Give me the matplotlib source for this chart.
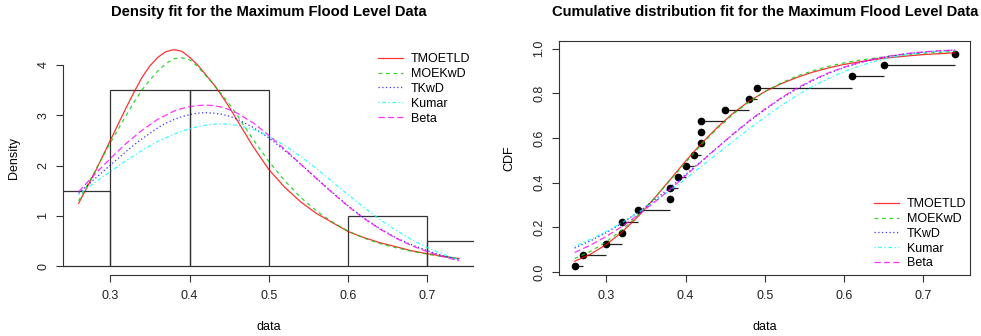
import matplotlib
matplotlib.use("Agg")
import matplotlib.pyplot as plt
import numpy as np

plt.rcParams['font.family'] = ['Liberation Sans', 'DejaVu Sans']

# Maximum flood level data (20 observations)
flood = [0.26, 0.27, 0.30, 0.32, 0.32, 0.34, 0.38, 0.38, 0.39, 0.40,
         0.41, 0.42, 0.42, 0.42, 0.45, 0.48, 0.49, 0.61, 0.65, 0.74]
ecdf_p = [0.025, 0.075, 0.125, 0.175, 0.225, 0.275, 0.325, 0.375, 0.425, 0.475,
          0.525, 0.575, 0.625, 0.675, 0.725, 0.775, 0.825, 0.875, 0.925, 0.975]

# histogram (R hist, density scale)
hist_breaks = [0.2, 0.3, 0.4, 0.5, 0.6, 0.7, 0.8]
hist_dens = [1.5, 3.5, 3.5, 0.0, 1.0, 0.5]

# x where the fitted densities were read (finer round the peaks)
xs_pdf = [0.26, 0.28, 0.30, 0.32, 0.33, 0.34, 0.35, 0.36, 0.37, 0.38, 0.39, 0.40, 0.41,
          0.42, 0.43, 0.44, 0.45, 0.46, 0.48, 0.50, 0.52, 0.54, 0.56, 0.58, 0.60, 0.62,
          0.64, 0.66, 0.68, 0.70, 0.72, 0.74]

pdf_tmoetld = [1.25, 1.85, 2.50, 3.15, 3.46, 3.75, 3.98, 4.15, 4.26, 4.30, 4.27, 4.15, 4.00,
               3.81, 3.62, 3.40, 3.16, 2.90, 2.38, 1.92, 1.57, 1.28, 1.05, 0.87, 0.69, 0.57,
               0.47, 0.39, 0.31, 0.25, 0.20, 0.155]
pdf_moekwd = [1.30, 1.87, 2.45, 3.00, 3.26, 3.50, 3.70, 3.88, 4.02, 4.12, 4.14, 4.10, 3.97,
              3.79, 3.62, 3.42, 3.22, 3.00, 2.52, 2.08, 1.70, 1.37, 1.10, 0.88, 0.70, 0.56,
              0.45, 0.37, 0.30, 0.24, 0.19, 0.15]
pdf_tkwd = [1.45, 1.73, 2.01, 2.28, 2.41, 2.53, 2.64, 2.75, 2.84, 2.91, 2.97, 3.01, 3.04,
            3.05, 3.04, 3.02, 2.98, 2.92, 2.76, 2.55, 2.30, 2.03, 1.75, 1.47, 1.20, 0.96,
            0.75, 0.57, 0.43, 0.31, 0.21, 0.13]
pdf_kumar = [1.42, 1.66, 1.88, 2.10, 2.20, 2.30, 2.39, 2.48, 2.55, 2.62, 2.68, 2.73, 2.77,
             2.80, 2.82, 2.83, 2.82, 2.80, 2.72, 2.58, 2.40, 2.18, 1.94, 1.68, 1.42, 1.17,
             0.93, 0.72, 0.53, 0.37, 0.24, 0.13]
pdf_beta = [1.48, 1.82, 2.14, 2.44, 2.57, 2.70, 2.81, 2.92, 3.00, 3.08, 3.13, 3.17, 3.19,
            3.20, 3.19, 3.16, 3.11, 3.04, 2.85, 2.60, 2.32, 2.03, 1.74, 1.46, 1.19, 0.95,
            0.74, 0.56, 0.41, 0.29, 0.19, 0.11]

# x where the fitted cdfs were read
xs_cdf = [0.26, 0.28, 0.30, 0.32, 0.34, 0.36, 0.38, 0.40, 0.42, 0.44, 0.46, 0.48, 0.50,
          0.52, 0.54, 0.56, 0.58, 0.60, 0.62, 0.64, 0.66, 0.68, 0.70, 0.72, 0.74]

cdf_tmoetld = [0.048, 0.079, 0.123, 0.179, 0.248, 0.327, 0.411, 0.496, 0.575, 0.647, 0.711,
               0.764, 0.807, 0.842, 0.870, 0.894, 0.913, 0.929, 0.941, 0.952, 0.960, 0.967,
               0.973, 0.977, 0.981]
cdf_moekwd = [0.060, 0.092, 0.135, 0.189, 0.254, 0.328, 0.408, 0.490, 0.570, 0.642, 0.706,
              0.761, 0.807, 0.845, 0.876, 0.900, 0.920, 0.936, 0.948, 0.958, 0.967, 0.973,
              0.979, 0.983, 0.987]
cdf_tkwd = [0.107, 0.139, 0.176, 0.219, 0.267, 0.320, 0.377, 0.436, 0.496, 0.557, 0.616,
            0.673, 0.726, 0.775, 0.818, 0.856, 0.888, 0.915, 0.937, 0.954, 0.967, 0.977,
            0.984, 0.990, 0.993]
cdf_kumar = [0.115, 0.146, 0.181, 0.221, 0.265, 0.313, 0.364, 0.417, 0.473, 0.529, 0.585,
             0.640, 0.693, 0.743, 0.789, 0.830, 0.866, 0.897, 0.923, 0.944, 0.961, 0.973,
             0.982, 0.988, 0.992]
cdf_beta = [0.087, 0.120, 0.159, 0.204, 0.255, 0.310, 0.369, 0.431, 0.494, 0.556, 0.618,
            0.676, 0.729, 0.778, 0.822, 0.859, 0.891, 0.917, 0.938, 0.955, 0.968, 0.978,
            0.985, 0.990, 0.993]

models = ['TMOETLD', 'MOEKwD', 'TKwD', 'Kumar', 'Beta']
colors = ['#FF0000', '#00CD00', '#0000FF', '#00FFFF', '#FF00FF']
dashes = [None, (3, 3), (1, 2), (1, 2, 3, 2), (5, 2.5)]
pdfs = [pdf_tmoetld, pdf_moekwd, pdf_tkwd, pdf_kumar, pdf_beta]
cdfs = [cdf_tmoetld, cdf_moekwd, cdf_tkwd, cdf_kumar, cdf_beta]

W, H = 981, 336
fig = plt.figure(figsize=(W / 100, H / 100), dpi=100)

fs_tick = 9
fs_lab = 9
fs_title = 10.6
axcol = '#333333'


def r_axes(ax):
    ax.tick_params(direction='out', length=5, width=0.8, colors=axcol,
                   labelsize=fs_tick, labelcolor='#222222')
    ax.tick_params(axis='x', pad=6)
    ax.tick_params(axis='y', pad=5, labelrotation=90)
    for lab in ax.get_yticklabels():
        lab.set_va('center')


def draw_lines(ax, xs, ys_list):
    for ys, c, d, name in zip(ys_list, colors, dashes, models):
        ln, = ax.plot(xs, ys, color=c, lw=0.9, alpha=0.8, label=name)
        if d is not None:
            ln.set_dashes(d)


def r_legend(ax, x0, y0):
    ax.legend(loc='upper left', bbox_to_anchor=(x0 / W, 1 - y0 / H),
              bbox_transform=fig.transFigure, frameon=False, fontsize=fs_lab,
              handlelength=2.0, handletextpad=0.65, labelspacing=0.23,
              borderpad=0, borderaxespad=0)


# ---- density panel ----
ax1 = fig.add_axes([63.4 / W, 1 - 275 / H, 410.9 / W, 234 / H])
ax1.bar(hist_breaks[:-1], hist_dens, width=np.diff(hist_breaks), align='edge',
        fill=False, edgecolor='#333333', lw=0.9)
draw_lines(ax1, xs_pdf, pdfs)
ax1.set_xlim(0.2408, 0.7592)
ax1.set_ylim(-0.172, 4.472)
ax1.set_xticks([0.3, 0.4, 0.5, 0.6, 0.7])
ax1.set_yticks([0, 1, 2, 3, 4])
for s in ['top', 'right']:
    ax1.spines[s].set_visible(False)
ax1.spines['left'].set_bounds(0, 4)
ax1.spines['bottom'].set_bounds(0.3, 0.7)
for s in ['left', 'bottom']:
    ax1.spines[s].set_color(axcol)
    ax1.spines[s].set_linewidth(0.8)
r_axes(ax1)
r_legend(ax1, 378, 53)
fig.text(269 / W, 1 - 12 / H, 'Density fit for the Maximum Flood Level Data',
         ha='center', va='center', fontsize=fs_title, fontweight='bold')
fig.text(269 / W, 1 - 327 / H, 'data', ha='center', va='center', fontsize=fs_lab)
fig.text(14 / W, 1 - 158 / H, 'Density', ha='center', va='center', fontsize=fs_lab,
         rotation=90)

# ---- cdf panel ----
ax2 = fig.add_axes([559.4 / W, 1 - 275 / H, 410.9 / W, 234 / H])
# empirical cdf steps: horizontal segment from last point of each tie group
ux = sorted(set(flood))
top_p = [max(p for v, p in zip(flood, ecdf_p) if v == u) for u in ux]
ax2.hlines(top_p[:-1], ux[:-1], ux[1:], colors='#222222', lw=0.9)
ax2.plot(flood, ecdf_p, 'o', color='black', ms=4.5)
draw_lines(ax2, xs_cdf, cdfs)
ax2.set_xlim(0.2408, 0.7592)
ax2.set_ylim(-0.0138, 1.0338)
ax2.set_xticks([0.3, 0.4, 0.5, 0.6, 0.7])
ax2.set_yticks([0.0, 0.2, 0.4, 0.6, 0.8, 1.0])
ax2.set_yticklabels(['0.0', '0.2', '0.4', '0.6', '0.8', '1.0'])
for s in ax2.spines.values():
    s.set_color(axcol)
    s.set_linewidth(0.8)
r_axes(ax2)
r_legend(ax2, 874, 198)
fig.text(765 / W, 1 - 12 / H, 'Cumulative distribution fit for the Maximum Flood Level Data',
         ha='center', va='center', fontsize=fs_title, fontweight='bold')
fig.text(765 / W, 1 - 327 / H, 'data', ha='center', va='center', fontsize=fs_lab)
fig.text(509 / W, 1 - 158 / H, 'CDF', ha='center', va='center', fontsize=fs_lab,
         rotation=90)

fig.savefig('out.png', dpi=100)
